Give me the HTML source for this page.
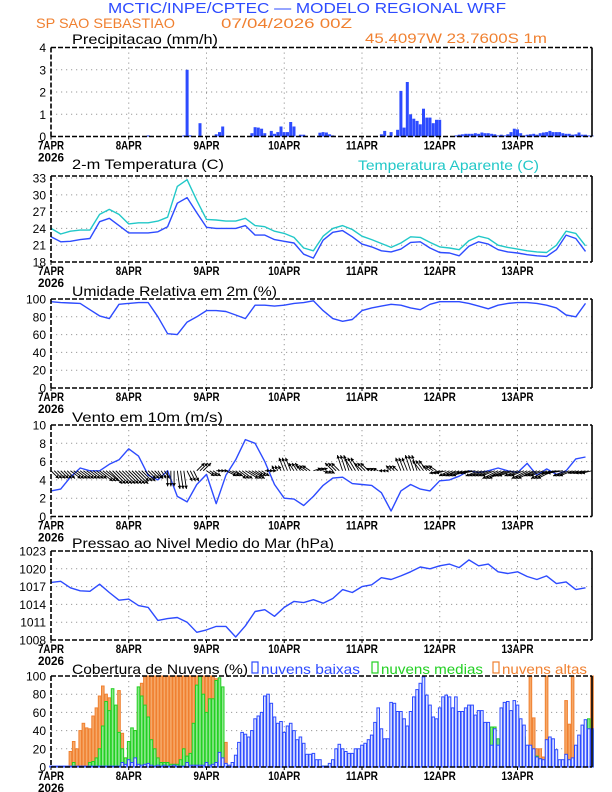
<!DOCTYPE html>
<html><head><meta charset="utf-8"><title>Meteograma WRF</title>
<style>
html,body{margin:0;padding:0;background:#fff;}
svg{display:block;}
text{font-family:"Liberation Sans",sans-serif;}
</style></head>
<body>
<svg id="chart" xmlns="http://www.w3.org/2000/svg" width="612" height="792" viewBox="0 0 612 792">
<text x="108" y="13" font-size="15" fill="#2d4bff" textLength="398" lengthAdjust="spacingAndGlyphs">MCTIC/INPE/CPTEC — MODELO REGIONAL WRF</text>
<text x="36" y="28" font-size="14" fill="#f08030" textLength="139" lengthAdjust="spacingAndGlyphs">SP SAO SEBASTIAO</text>
<text x="221" y="28" font-size="14" fill="#f08030" textLength="131" lengthAdjust="spacingAndGlyphs">07/04/2026 00Z</text>
<text x="365" y="43" font-size="14" fill="#f08030" textLength="182" lengthAdjust="spacingAndGlyphs">45.4097W 23.7600S 1m</text>
</svg>
<script>
// ---------- data ----------
const dayLabels = ["7APR","8APR","9APR","10APR","11APR","12APR","13APR"];
const precipHours = [30,41,42,43,46,51,52,53,62,63,64,65,66,68,69,70,71,72,73,74,75,77,78,83,84,85,86,87,102,103,105,107,108,109,110,111,112,113,114,115,116,117,118,119,120,125,126,127,128,129,130,131,132,133,134,135,136,137,138,139,140,141,142,143,144,145,146,147,148,149,150,151,152,153,154,155,156,157,158,159,160,161,162,163,164,165,166,167];
const precipValues = [0.05,0.05,3.0,0.05,0.6,0.1,0.2,0.45,0.15,0.42,0.4,0.35,0.15,0.25,0.12,0.2,0.45,0.2,0.2,0.65,0.45,0.08,0.08,0.17,0.2,0.18,0.1,0.05,0.1,0.25,0.2,0.3,2.05,0.4,2.45,1.0,0.8,0.7,0.55,1.25,0.85,0.85,0.6,0.75,0.75,0.05,0.08,0.1,0.12,0.12,0.12,0.15,0.12,0.18,0.15,0.15,0.12,0.1,0.05,0.08,0.05,0.1,0.2,0.35,0.32,0.15,0.05,0.08,0.1,0.12,0.08,0.15,0.18,0.2,0.25,0.2,0.2,0.2,0.15,0.12,0.12,0.08,0.1,0.18,0.08,0.08,0.05,0.05];
const tempTicks = [18,21,24,27,30,33];
const tempValues = [22.5,21.6,21.7,22.0,22.2,25.2,25.8,24.5,23.2,23.2,23.2,23.4,24.3,28.5,29.5,26.8,24.2,24.0,24.0,24.0,24.5,22.8,22.8,22.0,21.7,21.4,19.4,18.7,21.9,23.3,23.6,22.5,21.2,20.7,20.0,19.8,20.3,21.5,21.6,20.5,19.7,19.6,19.1,20.8,21.6,21.2,20.2,19.8,19.6,19.3,19.1,19.0,20.2,22.8,22.2,19.9];
const apparentValues = [24.0,23.0,23.5,23.7,23.7,26.5,27.4,26.5,24.8,25.0,25.0,25.3,26.0,31.5,32.7,29.0,25.6,25.5,25.3,25.3,25.8,24.5,24.3,23.5,23.1,22.4,20.5,20.0,22.6,24.0,24.5,23.8,22.6,22.0,21.3,20.6,21.4,22.5,22.4,21.5,20.7,20.5,20.2,21.8,22.6,22.2,21.0,20.6,20.3,20.0,19.8,19.7,21.0,23.5,23.1,20.9];
const rhTicks = [0,20,40,60,80,100];
const rhValues = [97,96,95.5,95,88,81,78,94,95,96,96,80,61,60,74,80,87,87,86,82,78,93,93,92,93,95,96,98,87,78,75,77,87,90,92,94,93,90,88,94,97,97,97,95,92,89,93,95,96,96,95,93,90,82,80,95];
const windTicks = [0,2,4,6,8,10];
const windSpeed = [2.8,3.0,4.3,5.3,5.0,5.0,5.7,6.2,7.4,6.6,4.5,4.0,5.0,2.2,1.6,3.5,4.6,1.4,4.5,6.2,8.4,8.0,6.0,3.5,2.0,1.9,1.2,2.2,3.4,4.2,4.3,3.6,3.5,3.4,2.6,0.6,2.8,3.5,3.0,2.8,3.9,4.0,4.4,5.0,4.8,5.0,5.3,5.0,4.8,5.8,4.5,5.2,4.6,5.0,6.3,6.5];
const windU = [3,3,4,4,4,5,5,5,5,4,3,2,0,1,2,3,3,2,4,4,5,3,2,-1,-2,-2,-3,3,2,-3,-2,-3,-3,-2,-1,-2,-2,-2,-3,-3,-4,-4,-5,-5,-5,-5,-6,-6,-5,-6,-5,-6,-6,-5,-3,-4];
const windV = [-3,-3,-3,-3,-3,-4,-5,-5,-5,-4,-3,-3,-6,-7,-4,3,-2,0,-2,-3,-3,-2,0,2,5,3,2,1,-1,3,6,5,3,1,0,2,5,6,4,2,-1,-2,-2,-1,-2,-2,-3,-2,-2,-3,-2,-3,-1,-2,-1,-1];
const presTicks = [1008,1011,1014,1017,1020,1023];
const presValues = [1017.7,1017.9,1016.8,1016.3,1016.2,1017.4,1016.0,1014.7,1014.9,1013.8,1013.5,1011.3,1011.6,1011.8,1011.0,1009.3,1009.7,1010.3,1010.3,1008.5,1010.4,1012.8,1013.1,1012.0,1013.5,1014.5,1014.3,1014.8,1014.2,1015,1016.5,1016,1017,1017.3,1018.5,1018.2,1018.8,1019.5,1020.3,1020,1020.5,1020.8,1020.2,1021.5,1020.5,1020.8,1019.5,1019.2,1019.5,1018.7,1018.2,1018.8,1017.5,1017.8,1016.5,1016.8];
const cloudTicks = [0,20,40,60,80,100];
const cloudHigh = [0,0,0,0,0,0,
17,28,20,40,48,43,42,56,65,78,89,80,76,66,60,84,37,10,
0,20,40,60,92,
100,100,100,100,100,100,100,100,100,100,100,100,100,100,100,100,100,100,100,100,100,100,
97,88,48,27,
0,0,0,0,0,0,0,0,0,0,0,0,0,0,0,0,0,0,0,0,0,0,0,0,0,0,0,0,0,0,0,0,0,0,0,0,0,0,0,0,0,0,0,0,0,0,0,0,0,0,0,0,0,0,0,0,0,0,0,0,0,0,0,0,0,0,0,0,0,0,0,0,0,0,0,0,0,0,0,0,0,0,0,0,0,0,0,0,0,0,0,0,0,
100,54,20,20,11,100,
0,0,0,0,0,
73,47,100,18,18,5,0,0,100];
const cloudMid = [0,0,0,0,0,0,0,5,0,0,0,0,
5,6,10,20,45,72,62,86,68,38,20,10,28,43,40,88,78,68,55,30,20,10,5,5,5,3,3,3,8,20,12,15,48,90,100,80,60,75,75,95,98,88,2,
1,1,2,1,1,1,2,1,1,1,1,2,1,1,1,1,2,1,1,1,1,1,2,1,1,1,2,1,1,1,1,2,1,1,1,1,2,1,1,1,1,2,1,1,1,1,2,1,1,1,1,2,
30,35,40,38,30,
8,5,6,5,7,5,6,5,8,5,4,6,5,5,6,5,5,4,5,
30,42,46,44,44,44,44,31,44,48,53,50,57,55,38,33,23,23,13,12,9,3,3,3,3,3,3,3,3,3,3,3,3,20,23,53,40];
const cloudLow = [1,1,1,1,1,1,1,1,1,1,1,1,1,1,1,1,1,1,1,1,1,1,
5,3,8,5,10,3,2,3,4,2,1,2,1,2,1,1,2,1,1,1,5,2,2,2,2,2,5,2,3,5,16,10,4,
2,5,13,27,38,36,33,40,53,56,60,78,80,70,55,48,50,38,45,48,40,30,
33,26,14,14,15,8,8,1,1,4,8,20,25,20,17,15,15,20,20,24,26,30,35,49,65,42,31,31,71,70,61,61,53,45,61,77,85,92,99,79,68,55,53,65,77,79,77,65,
77,61,61,65,68,68,57,62,62,49,49,24,42,24,65,71,72,62,73,68,53,46,24,24,20,11,9,8,30,33,31,19,8,8,14,8,10,24,35,46,52,42,42];

// ---------- layout ----------
const NS = "http://www.w3.org/2000/svg";
const svg = document.getElementById('chart');
const L = 51, R = 592, HMAX = 167;
const BLUE = "#2d4bff", CYAN = "#22c8c8", ORANGE = "#f08030", GREEN = "#22d022";
function xOf(h){ return L + h * (R - L) / HMAX; }
function mk(tag, attrs, parent){
  const e = document.createElementNS(NS, tag);
  for (const k in attrs) e.setAttribute(k, attrs[k]);
  (parent || svg).appendChild(e);
  return e;
}
function makeY(top, bot, vmin, vmax){ return v => bot - (v - vmin) / (vmax - vmin) * (bot - top); }

function panel(name, top, bot, vmin, vmax, ticks, title, titleLen, titleY){
  const g = mk('g', {});
  
  
  const y = makeY(top, bot, vmin, vmax);
  ticks.forEach(t => {
    const yy = y(t);
    if (yy > top + 1 && yy < bot - 1) {
      const gl = mk('line', {x1:L, x2:R, y1:yy, y2:yy, stroke:"#9a9a9a", "stroke-width":1, "stroke-dasharray":"1.2,3.8"}, g);
      
      
    }
    const tl = mk('text', {x:46, y:yy + 4.5, "font-size":12, "text-anchor":"end", fill:"#000"}, g);
    tl.textContent = String(t);
    
    
  });
  dayLabels.forEach((d, i) => {
    const xx = xOf(i * 24);
    if (i > 0) {
      const gl = mk('line', {x1:xx, x2:xx, y1:top, y2:bot, stroke:"#9a9a9a", "stroke-width":1, "stroke-dasharray":"1.2,3.8"}, g);
      
      
    }
    const tk = mk('line', {x1:xx, x2:xx, y1:bot, y2:bot + 3, stroke:"#000", "stroke-width":1}, g);
    
    
    const tl = mk('text', {x:xx, y:bot + 13, "font-size":12, "font-weight":"bold", "text-anchor":"middle", fill:"#000", textLength:(d.length > 4 ? 32 : 26), lengthAdjust:"spacingAndGlyphs"}, g);
    tl.textContent = d;
    
    
  });
  const yr = mk('text', {x:L, y:bot + 25, "font-size":12, "font-weight":"bold", "text-anchor":"middle", fill:"#000", textLength:26, lengthAdjust:"spacingAndGlyphs"}, g);
  yr.textContent = "2026";
  
  
  const tt = mk('text', {x:72, y:titleY, "font-size":14, fill:"#000", textLength:titleLen, lengthAdjust:"spacingAndGlyphs"}, g);
  tt.textContent = title;
  
  
  const plot = mk('g', {}, g);
  
  
  return {g, plot, y, top, bot};
}
function frame(p, name){
  const fr = mk('g', {}, p.g);
  
  
  mk('line', {x1:L, x2:R, y1:p.top, y2:p.top, stroke:"#000", "stroke-width":1.6, "stroke-dasharray":"5,2"}, fr);
  mk('line', {x1:L, x2:R, y1:p.bot, y2:p.bot, stroke:"#000", "stroke-width":1.6, "stroke-dasharray":"5,2"}, fr);
  mk('line', {x1:L, x2:L, y1:p.top, y2:p.bot, stroke:"#000", "stroke-width":1.6, "stroke-dasharray":"5,2"}, fr);
  mk('line', {x1:R, x2:R, y1:p.top, y2:p.bot, stroke:"#000", "stroke-width":1.6}, fr);
}
function line(p, vals, color, name){
  const pts = vals.map((v, i) => xOf(i * 3).toFixed(1) + "," + p.y(v).toFixed(1)).join(" ");
  const pl = mk('polyline', {points:pts, fill:"none", stroke:color, "stroke-width":1.4, "stroke-linejoin":"round"}, p.plot);
  
  
}

// Precip
const p1 = panel('precip', 47.5, 136.5, 0, 4, [0,1,2,3,4], "Precipitacao (mm/h)", 146, 44);
precipHours.forEach((h, i) => {
  const v = precipValues[i];
  const b = mk('rect', {x:(xOf(h) - 1.5).toFixed(1), y:p1.y(v).toFixed(1), width:3, height:(p1.bot - p1.y(v)).toFixed(1), fill:BLUE}, p1.plot);
  
  
});
frame(p1, 'precip');

// Temperature
const p2 = panel('temperature', 176, 262, 18, 33.36, tempTicks, "2-m Temperatura (C)", 152, 169);
line(p2, apparentValues, CYAN, 'apparent-temperature-line');
line(p2, tempValues, BLUE, 'temperature-line');
frame(p2, 'temperature');
const at = mk('text', {x:358, y:170, "font-size":14, fill:CYAN, textLength:181, lengthAdjust:"spacingAndGlyphs"});
at.textContent = "Temperatura Aparente (C)";



// RH
const p3 = panel('humidity', 299, 388, 0, 100, rhTicks, "Umidade Relativa em 2m (%)", 205, 296);
line(p3, rhValues, BLUE, 'humidity-line');
frame(p3, 'humidity');

// Wind
const p4 = panel('wind', 425, 516.5, 0, 10, windTicks, "Vento em 10m (m/s)", 151, 422);
line(p4, windSpeed, BLUE, 'wind-speed-line');
const ay = p4.y(5);
const SC = 2.6;
windU.forEach((u, i) => {
  const v = windV[i];
  for (let k = 0; k < 3; k++) {
    const h = i * 3 + k;
    if (h > HMAX) break;
    const x0 = xOf(h), x1 = x0 + u * SC, y1 = ay - v * SC;
    const ag = mk('g', {}, p4.plot);
    
    
    mk('line', {x1:x0, y1:ay, x2:x1, y2:y1, stroke:"#000", "stroke-width":0.9}, ag);
    const len = Math.hypot(u, v) || 1;
    const ux = u / len, uy = -v / len;
    const hx = 3.2, hw = 1.8;
    const bx = x1 - ux * hx, by = y1 - uy * hx;
    mk('polygon', {points:`${x1},${y1} ${bx - uy * hw},${by + ux * hw} ${bx + uy * hw},${by - ux * hw}`, fill:"#000"}, ag);
  }
});
frame(p4, 'wind');

// Pressure
const p5 = panel('pressure', 551, 640, 1008, 1023, presTicks, "Pressao ao Nivel Medio do Mar (hPa)", 262, 548);
line(p5, presValues, BLUE, 'pressure-line');
frame(p5, 'pressure');

// Clouds
const p6 = panel('clouds', 676, 767, 0, 100, cloudTicks, "Cobertura de Nuvens (%)", 176, 674);
function bars(vals, fill, stroke, name){
  vals.forEach((v, h) => {
    if (v <= 0) return;
    const b = mk('rect', {x:(xOf(h) - 1.3).toFixed(1), y:p6.y(v).toFixed(1), width:2.6, height:(p6.bot - p6.y(v)).toFixed(1), fill:fill, stroke:stroke, "stroke-width":1}, p6.plot);
    
    
  });
}
bars(cloudHigh, "#f6a868", "#f08030", 'cloud-high-bar');
bars(cloudMid, "#8ee88e", GREEN, 'cloud-mid-bar');
bars(cloudLow, "#dfe5ff", BLUE, 'cloud-low-bar');
frame(p6, 'clouds');
const legend = [[252, BLUE, "nuvens baixas", 99], [372, GREEN, "nuvens medias", 102], [493, ORANGE, "nuvens altas", 85]];
legend.forEach(([x, c, label, w]) => {
  const lg = mk('g', {});
  
  
  mk('rect', {x:x, y:662, width:6, height:11, fill:"none", stroke:c, "stroke-width":1.2}, lg);
  const t = mk('text', {x:x + 9, y:674, "font-size":14, fill:c, textLength:w, lengthAdjust:"spacingAndGlyphs"}, lg);
  t.textContent = label;
});
</script>
</body></html>
